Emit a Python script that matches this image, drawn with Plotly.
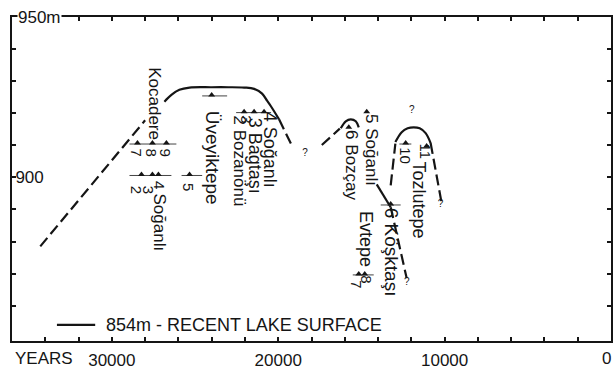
import plotly.graph_objects as go

# ---------------- data (years BP, lake level m) ----------------
rise1_years = [34300, 28000]
rise1_levels = [878.5, 917.8]

plateau_years = [26840, 26420, 25940, 25330, 24000, 23000, 22050, 21450, 20970, 20670, 20430, 19950]
plateau_levels = [923.6, 925.7, 927.3, 928.0, 928.1, 928.1, 928.0, 927.6, 926.1, 923.9, 922.1, 918.1]

fall1_years = [19950, 19170]
fall1_levels = [918.1, 909.8]

rise2_years = [17380, 16300]
rise2_levels = [910.1, 915.2]

arc2_years = [16240, 15940, 15640, 15340, 15160]
arc2_levels = [915.3, 917.5, 918.1, 917.5, 915.6]

fall2_solid_years = [14080, 13240]
fall2_solid_levels = [897.8, 890.7]
fall2_dash_years = [13240, 12280]
fall2_dash_levels = [890.7, 868.6]

arc3_left_years = [13240, 12960]
arc3_left_levels = [897.5, 910.5]
arc3_years = [12960, 12580, 12220, 11860, 11500, 11140, 10840]
arc3_levels = [911.0, 914.1, 915.3, 915.6, 915.3, 913.8, 910.7]
arc3_right_years = [10840, 10190]
arc3_right_levels = [910.7, 892.3]

lake_years = [33300, 31000]
lake_levels = [854, 854]

q_years = [18390, 11980, 10250, 12280]
q_levels = [907.6, 920.8, 891.4, 867.1]

dot_years = [28460, 27560, 26720, 28220, 27560, 27200, 25330, 24000,
             22050, 21450, 20850, 14680, 15760, 15160, 14800, 13240, 12340, 11080]
dot_levels = [910.7, 910.7, 910.7, 900.9, 900.9, 900.9, 900.9, 925.7,
              920.5, 920.5, 920.5, 920.5, 915.6, 869.9, 869.9, 891.7, 910.7, 909.8]

hbar_start = [28940, 28940, 25810, 24570, 22530, 15520, 13840, 12720]
hbar_end = [26120, 26420, 24570, 23070, 20430, 14260, 12640, 12000]
hbar_level = [910.4, 900.6, 900.6, 925.4, 920.2, 869.6, 891.4, 910.4]

label_text = ["Kocadere", "7", "8", "9", "2", "3", "4", "Soğanlı", "5", "Üveyiktepe",
              "2 Bozanönü", "3", "3 Bagtaşı", "4 Soğanlı", "5 Soğanlı", "6 Bozçay",
              "Evtepe", "7", "8", "6 Köşktaşı", "10", "11", "Tozlutepe"]
label_years = [27440, 28460, 27560, 26720, 28520, 27800, 27140, 27140, 25400, 23970,
               22350, 21870, 21390, 20490, 14440, 15640,
               14680, 15340, 14680, 13180, 12400, 11140, 11560]
label_levels = [923.0, 907.6, 907.6, 907.6, 896.0, 896.0, 897.5, 885.8, 896.9, 906.1,
                905.2, 918.1, 906.7, 908.6, 908.6, 903.9,
                880.9, 866.8, 868.3, 876.6, 906.7, 908.2, 892.9]
label_sizes = [17, 15, 15, 15, 15, 15, 15, 17, 15, 19,
               17, 15, 18, 18, 17, 17,
               18, 15, 15, 19, 15, 15, 18]

x_tickvals = list(range(0, 36001, 2000))
x_labeled = {30000: "30000", 20000: "20000", 10000: "10000"}
y_tickvals = list(range(860, 941, 10))
y_labeled = {900: "900"}

INK = "#151515"
FONT = "Liberation Sans, Arial, sans-serif"

fig = go.Figure()


def add_line(xs, ys, dash="solid", shape="linear"):
    fig.add_trace(go.Scatter(x=xs, y=ys, mode="lines",
                             line=dict(color=INK, width=2.2, dash=dash, shape=shape),
                             hoverinfo="skip", showlegend=False))


DASH = "11px,5px"
add_line(rise1_years, rise1_levels, DASH)
add_line(plateau_years, plateau_levels, "solid", "spline")
add_line(fall1_years, fall1_levels, DASH)
add_line(rise2_years, rise2_levels, DASH)
add_line(arc2_years, arc2_levels, "solid", "spline")
add_line(fall2_solid_years, fall2_solid_levels)
add_line(fall2_dash_years, fall2_dash_levels, DASH)
add_line(arc3_left_years, arc3_left_levels, DASH)
add_line(arc3_years, arc3_levels, "solid", "spline")
add_line(arc3_right_years, arc3_right_levels, DASH)
add_line(lake_years, lake_levels)

# horizontal bars of dated samples
hx, hy = [], []
for a, b, lv in zip(hbar_start, hbar_end, hbar_level):
    hx += [a, b, None]
    hy += [lv, lv, None]
fig.add_trace(go.Scatter(x=hx, y=hy, mode="lines", line=dict(color="#444", width=1),
                         hoverinfo="skip", showlegend=False))

fig.add_trace(go.Scatter(x=dot_years, y=dot_levels, mode="markers",
                         marker=dict(symbol="triangle-up", size=6, color=INK),
                         hoverinfo="skip", showlegend=False))

fig.add_trace(go.Scatter(x=q_years, y=q_levels, mode="text", text=["?"] * len(q_years),
                         textfont=dict(size=10, color=INK, family=FONT),
                         hoverinfo="skip", showlegend=False))

annotations = []
for t, xv, yv, s in zip(label_text, label_years, label_levels, label_sizes):
    annotations.append(dict(x=xv, y=yv, xref="x", yref="y", text=t, textangle=90,
                            showarrow=False, xanchor="center", yanchor="middle",
                            font=dict(size=s, color=INK, family=FONT)))

annotations.append(dict(x=30500, y=854, xref="x", yref="y",
                        text="854m - RECENT LAKE SURFACE", showarrow=False,
                        xanchor="left", yanchor="middle",
                        font=dict(size=18, color=INK, family=FONT)))
annotations.append(dict(x=0.008, y=950, xref="paper", yref="y", text="950m",
                        showarrow=False, xanchor="left", yanchor="middle",
                        bgcolor="white", borderpad=0,
                        font=dict(size=17, color=INK, family=FONT)))
annotations.append(dict(x=0.053, y=-0.055, xref="paper", yref="paper", text="YEARS",
                        showarrow=False, xanchor="center", yanchor="middle",
                        font=dict(size=17, color=INK, family=FONT)))
# "0" tick label sits at the very right edge of the page
annotations.append(dict(x=1.004, y=-0.055, xref="paper", yref="paper", text="0",
                        showarrow=False, xanchor="right", yanchor="middle",
                        font=dict(size=17, color=INK, family=FONT)))

fig.update_layout(
    width=615, height=372,
    margin=dict(l=12, r=2, t=17, b=26),
    paper_bgcolor="white", plot_bgcolor="white",
    annotations=annotations,
    showlegend=False,
    xaxis=dict(range=[36000, 0], showgrid=False, zeroline=False,
               showline=True, linecolor=INK, linewidth=1.6, mirror="ticks",
               ticks="inside", ticklen=4, tickwidth=1.5, tickcolor=INK,
               tickmode="array", tickvals=x_tickvals,
               ticktext=[x_labeled.get(v, "") for v in x_tickvals],
               ticklabelstandoff=3,
               tickfont=dict(size=17, color=INK, family=FONT)),
    yaxis=dict(range=[849, 950], showgrid=False, zeroline=False,
               showline=True, linecolor=INK, linewidth=1.6, mirror="ticks",
               ticks="inside", ticklen=4, tickwidth=1.5, tickcolor=INK,
               tickmode="array", tickvals=y_tickvals,
               ticktext=[y_labeled.get(v, "") for v in y_tickvals],
               ticklabelposition="inside",
               tickfont=dict(size=17, color=INK, family=FONT)),
)

fig.write_html("out.html", config={"displayModeBar": False},
               post_script="document.body.style.margin='0';document.body.style.overflow='hidden';")
